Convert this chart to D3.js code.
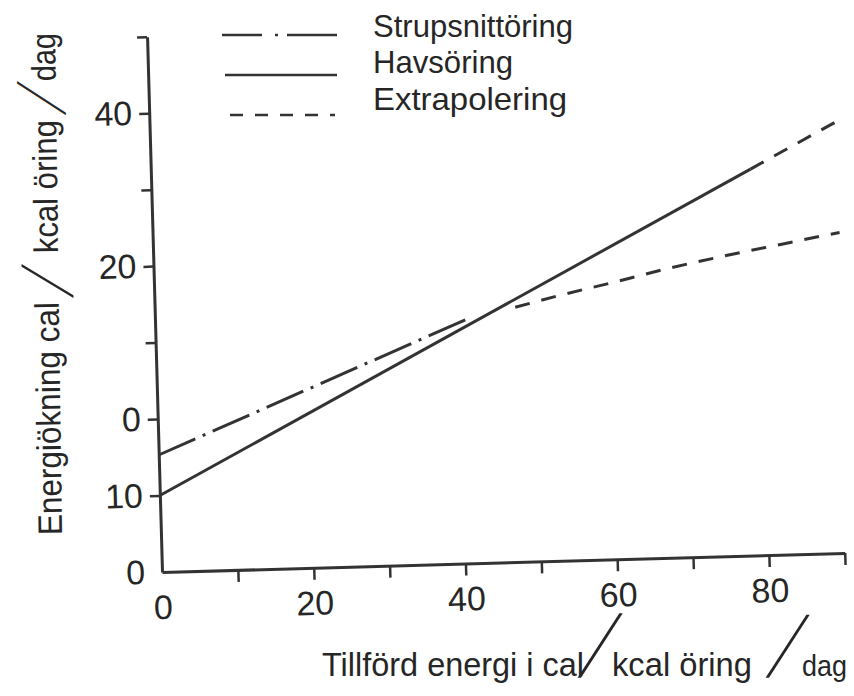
<!DOCTYPE html>
<html>
<head>
<meta charset="utf-8">
<script src="https://cdn.jsdelivr.net/npm/d3@7"></script>
<style>
  body { margin: 0; background: #fff; }
  svg { display: block; }
  text { font-family: "Liberation Sans", Arial, sans-serif; fill: #262626; }
</style>
</head>
<body>
<div id="chart"></div>
<script>
// values
// x: tillförd energi, y: energiökning (cal/kcal öring/dag)
const strupX = [0, 41.5];
const strupY = [-4.7, 12.1];
const havsX = [0, 79];
const havsY = [-10, 30.5];
const strupExtraX = [47.5, 53, 60.5, 67.7, 75, 83, 90.5];
const strupExtraY = [13.3, 14.6, 16.2, 17.8, 19.2, 20.6, 21.9];
const havsExtraX = [79, 90.3];
const havsExtraY = [30.5, 36.3];

const xTicks = [10, 20, 30, 40, 50, 60, 70, 80, 90];
const xLabelValues = [0, 20, 40, 60, 80];
const xLabels = ["0", "20", "40", "60", "80"];
const yTicks = [-10, 0, 10, 20, 30, 40, 50];
const yLabelValues = [-20, -10, 0, 20, 40];
const yLabels = ["0", "10", "0", "20", "40"]; // printed like this in the scan

const legendNames = ["Strupsnittöring", "Havsöring", "Extrapolering"];
const legendKeys = ["strup", "havs", "extra"];

const ink = "#333";
const lineStyles = {
    strup: {dash: "40,8,3,8", legendDash: "40,13,3,9,50"},
    havs: {dash: null, legendDash: null},
    extra: {dash: "15,12", legendDash: "13,12"}
};

const width = 854, height = 696;
const origin = {x: 162, y: 572};
const tilt = -1.6; // the hand drawn axes lean a little in the scan

const svg = d3.select('#chart').append('svg')
    .attr('width', width)
    .attr('height', height);

const chart = svg.append('g')
    .attr('transform', `translate(${origin.x},${origin.y}) rotate(${tilt})`);

const xScale = d3.scaleLinear().domain([0, 90]).range([0, 683]);
const yScale = d3.scaleLinear().domain([-20, 50]).range([0, -535.5]);

// x axis: ticks hang below, labels every 20
const xAxisGroup = chart.append('g')
    .call(d3.axisBottom(xScale).tickValues(xTicks).tickSize(12).tickSizeOuter(0).tickFormat(''));
xAxisGroup.select('.domain').attr('stroke', ink).attr('stroke-width', 3);
xAxisGroup.selectAll('.tick line').attr('stroke', ink).attr('stroke-width', 2.5);

chart.append('g')
    .call(d3.axisBottom(xScale).tickValues(xLabelValues).tickSize(0).tickPadding(23)
        .tickFormat((d, i) => xLabels[i]))
    .attr('font-size', 34)
    .call(g => g.select('.domain').remove());

// y axis
const yAxisGroup = chart.append('g')
    .call(d3.axisLeft(yScale).tickValues(yTicks).tickSize(10).tickSizeOuter(0).tickFormat(''));
yAxisGroup.select('.domain').attr('stroke', ink).attr('stroke-width', 3);
yAxisGroup.selectAll('.tick line').attr('stroke', ink).attr('stroke-width', 2.5);

chart.append('g')
    .call(d3.axisLeft(yScale).tickValues(yLabelValues).tickSize(0).tickPadding(17)
        .tickFormat((d, i) => yLabels[i]))
    .attr('font-size', 34)
    .call(g => g.select('.domain').remove());

// lines
const series = [
    {xs: strupX, ys: strupY, style: 'strup'},
    {xs: havsX, ys: havsY, style: 'havs'},
    {xs: strupExtraX, ys: strupExtraY, style: 'extra'},
    {xs: havsExtraX, ys: havsExtraY, style: 'extra'}
];

const line = d3.line()
    .x(d => xScale(d[0]))
    .y(d => yScale(d[1]))
    .curve(d3.curveMonotoneX);

chart.selectAll('.series')
    .data(series)
    .join('path')
    .attr('class', 'series')
    .attr('d', s => line(s.xs.map((x, i) => [x, s.ys[i]])))
    .attr('fill', 'none')
    .attr('stroke', ink)
    .attr('stroke-width', 3)
    .attr('stroke-dasharray', s => lineStyles[s.style].dash);

// legend
const legendRows = [
    {lineY: 35, x0: 222, x1: 337, textY: 37, textLength: 200},
    {lineY: 75, x0: 225, x1: 337, textY: 73, textLength: 140},
    {lineY: 115, x0: 230, x1: 335, textY: 110, textLength: 194}
];

const legend = svg.append('g').attr('class', 'legend');
legendNames.forEach((name, i) => {
    const r = legendRows[i];
    legend.append('line')
        .attr('x1', r.x0).attr('x2', r.x1)
        .attr('y1', r.lineY).attr('y2', r.lineY)
        .attr('stroke', ink)
        .attr('stroke-width', 2.6)
        .attr('stroke-dasharray', lineStyles[legendKeys[i]].legendDash);
    legend.append('text')
        .attr('x', 373).attr('y', r.textY)
        .attr('font-size', 32)
        .attr('textLength', r.textLength)
        .attr('lengthAdjust', 'spacingAndGlyphs')
        .text(name);
});

// the big slanted slashes of the axis titles
function slash(parent, x, y, size, skew) {
    parent.append('text')
        .attr('transform', `translate(${x},${y}) skewX(${-skew}) scale(0.5,1)`)
        .attr('font-size', size)
        .text('/');
}

// x axis title
const xTitle = svg.append('g').attr('font-size', 33);
xTitle.append('text').attr('x', 322).attr('y', 676)
    .attr('textLength', 262).attr('lengthAdjust', 'spacingAndGlyphs')
    .text('Tillförd energi i cal');
slash(xTitle, 578, 677, 88, 27);
xTitle.append('text').attr('x', 612).attr('y', 676)
    .attr('textLength', 140).attr('lengthAdjust', 'spacingAndGlyphs')
    .text('kcal öring');
slash(xTitle, 766, 677, 86, 27);
xTitle.append('text').attr('x', 802).attr('y', 676)
    .attr('font-size', 30)
    .attr('textLength', 45).attr('lengthAdjust', 'spacingAndGlyphs')
    .text('dag');

// y axis title, reads bottom to top
const yTitle = svg.append('g')
    .attr('font-size', 34)
    .attr('transform', 'translate(62,535) rotate(-90.8)');
yTitle.append('text').attr('x', 0).attr('y', 0)
    .attr('textLength', 233).attr('lengthAdjust', 'spacingAndGlyphs')
    .text('Energiökning cal');
slash(yTitle, 237, 14, 70, 26);
yTitle.append('text').attr('x', 282).attr('y', 0)
    .attr('textLength', 133).attr('lengthAdjust', 'spacingAndGlyphs')
    .text('kcal öring');
slash(yTitle, 420, 9, 66, 28);
yTitle.append('text').attr('x', 454).attr('y', 0)
    .attr('textLength', 48).attr('lengthAdjust', 'spacingAndGlyphs')
    .text('dag');
</script>
</body>
</html>
